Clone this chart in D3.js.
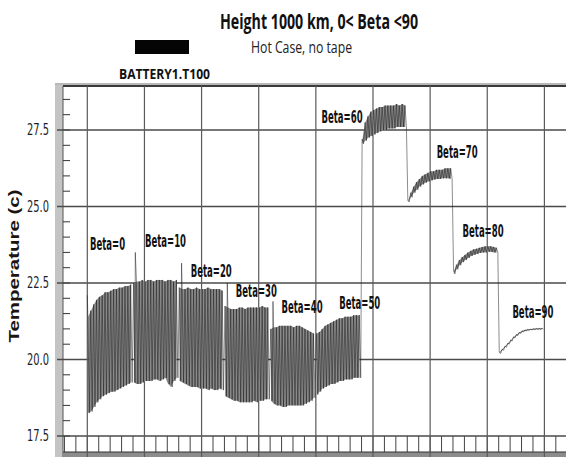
<!DOCTYPE html>
<html>
<head>
<meta charset="utf-8">
<script src="https://cdn.jsdelivr.net/npm/d3@7"></script>
<style>
    body { margin: 0; background: #fff; }
    svg { display: block; }
</style>
</head>
<body>
<div id="battery_vis"></div>
<script>
// text on the chart
const titleText = "Height 1000 km, 0< Beta <90";
const subtitleText = "Hot Case, no tape";
const seriesName = "BATTERY1.T100";
const yTitle = "Temperature (c)";
const yTicks = [17.5, 20.0, 22.5, 25.0, 27.5];

// one label per beta case, anchored in data units (time, temperature)
const betaLabels = ["Beta=0", "Beta=10", "Beta=20", "Beta=30", "Beta=40",
                    "Beta=50", "Beta=60", "Beta=70", "Beta=80", "Beta=90"];
const labelTime = [0.24, 5.05, 9.05, 13.0, 17.0, 22.05, 20.5, 30.57, 32.84, 37.2];
const labelTemp = [23.58, 23.67, 22.71, 22.05, 21.51, 21.64, 27.72, 26.58, 24.01, 21.35];

const segStart = [0, 4, 8, 12, 16, 20, 24, 28, 32, 36];
const beta0Hi = [21.4, 21.6, 21.8, 21.95, 22.05, 22.1, 22.2, 22.2, 22.25, 22.3, 22.3, 22.35, 22.35, 22.4, 22.4, 22.45];
const beta0Lo = [18.25, 18.3, 18.45, 18.6, 18.7, 18.8, 18.85, 18.9, 18.95, 18.95, 19.0, 19.05, 19.1, 19.15, 19.2, 19.25];
const beta10Hi = [22.5, 22.55, 22.55, 22.6, 22.55, 22.6, 22.6, 22.55, 22.6, 22.6, 22.6, 22.55, 22.6, 22.6, 22.55, 22.6];
const beta10Lo = [19.25, 19.2, 19.2, 19.25, 19.3, 19.3, 19.3, 19.35, 19.35, 19.3, 19.35, 19.4, 19.2, 19.1, 19.3, 19.4];
const beta20Hi = [22.35, 22.3, 22.3, 22.35, 22.3, 22.3, 22.35, 22.3, 22.3, 22.3, 22.35, 22.3, 22.3, 22.3, 22.3, 22.25];
const beta20Lo = [19.3, 19.25, 19.2, 19.15, 19.1, 19.1, 19.1, 19.05, 19.05, 19.05, 19.0, 19.05, 19.0, 19.0, 19.05, 19.0];
const beta30Hi = [21.75, 21.7, 21.65, 21.65, 21.65, 21.7, 21.7, 21.65, 21.7, 21.7, 21.7, 21.7, 21.7, 21.75, 21.7, 21.7];
const beta30Lo = [18.8, 18.75, 18.7, 18.65, 18.65, 18.6, 18.6, 18.6, 18.6, 18.6, 18.65, 18.6, 18.65, 18.65, 18.7, 18.7];
const beta40Hi = [21.0, 21.05, 21.05, 21.1, 21.1, 21.1, 21.1, 21.1, 21.05, 21.1, 21.1, 21.05, 21.0, 20.95, 20.9, 20.85];
const beta40Lo = [18.65, 18.55, 18.5, 18.5, 18.45, 18.45, 18.5, 18.5, 18.5, 18.5, 18.5, 18.5, 18.55, 18.6, 18.65, 18.75];
const beta50Hi = [20.85, 20.9, 21.0, 21.1, 21.15, 21.2, 21.25, 21.3, 21.35, 21.35, 21.4, 21.4, 21.4, 21.45, 21.45, 21.45];
const beta50Lo = [18.85, 18.95, 19.05, 19.1, 19.15, 19.2, 19.2, 19.25, 19.3, 19.3, 19.35, 19.35, 19.35, 19.4, 19.4, 19.4];
const beta60Hi = [27.2, 27.75, 27.95, 28.1, 28.15, 28.2, 28.25, 28.25, 28.3, 28.3, 28.3, 28.3, 28.35, 28.3, 28.35, 28.3];
const beta60Lo = [27.05, 27.15, 27.25, 27.3, 27.35, 27.4, 27.45, 27.5, 27.5, 27.55, 27.55, 27.55, 27.6, 27.6, 27.6, 27.6];
const beta70Hi = [25.2, 25.45, 25.65, 25.8, 25.9, 26.0, 26.05, 26.1, 26.15, 26.15, 26.2, 26.2, 26.2, 26.25, 26.25, 26.25];
const beta70Lo = [25.15, 25.3, 25.45, 25.55, 25.65, 25.72, 25.78, 25.82, 25.85, 25.88, 25.9, 25.9, 25.92, 25.92, 25.92, 25.9];
const beta80Hi = [22.9, 23.1, 23.25, 23.35, 23.42, 23.5, 23.55, 23.6, 23.62, 23.65, 23.68, 23.7, 23.7, 23.7, 23.68, 23.65];
const beta80Lo = [22.8, 22.95, 23.08, 23.18, 23.25, 23.32, 23.38, 23.42, 23.45, 23.48, 23.5, 23.5, 23.52, 23.52, 23.5, 23.5];
const beta90Hi = [20.24, 20.34, 20.44, 20.54, 20.64, 20.74, 20.82, 20.89, 20.94, 20.97, 20.99, 21.0, 21.01, 21.02, 21.02, 21.03];
const beta90Lo = [20.2, 20.3, 20.4, 20.5, 20.6, 20.7, 20.78, 20.85, 20.9, 20.93, 20.95, 20.96, 20.97, 20.98, 20.98, 20.99];

// value at switch-on and the short spikes when the beta angle changes
const startTemp = 22.1;
const spikeTime = [4.2, 8.25, 12.25, 16.25];
const spikeTemp = [23.5, 23.15, 22.5, 21.9];

const bandsHi = [beta0Hi, beta10Hi, beta20Hi, beta30Hi, beta40Hi, beta50Hi, beta60Hi, beta70Hi, beta80Hi, beta90Hi];
const bandsLo = [beta0Lo, beta10Lo, beta20Lo, beta30Lo, beta40Lo, beta50Lo, beta60Lo, beta70Lo, beta80Lo, beta90Lo];

//create window for viz
let W = 566, H = 457;
let plot = { left: 63, right: 566, top: 86, bottom: 452, band: 436 };

let svg = d3.select("#battery_vis")
    .append("svg")
    .attr("width", W)
    .attr("height", H);

// scales: time units (one per small box) and temperature
let x = d3.scaleLinear()
    .domain([0, 40])
    .range([87.3, 544.4]);
let y = d3.scaleLinear()
    .domain([17.5, 27.5])
    .range([436, 130]);

let tMin = x.invert(plot.left), tMax = x.invert(plot.right);

// grey frame bits round the plot
svg.append("rect")
    .attr("x", 55).attr("y", 83)
    .attr("width", 8).attr("height", H - 83)
    .style("fill", "#c4c4c4");
svg.append("rect")
    .attr("x", 55).attr("y", 83)
    .attr("width", W - 55).attr("height", 2)
    .style("fill", "#b8b8b8");
svg.append("line")
    .attr("x1", plot.left).attr("x2", W)
    .attr("y1", plot.top).attr("y2", plot.top)
    .style("stroke", "#3a3a3a").style("stroke-width", 2);
svg.append("line")
    .attr("x1", plot.left).attr("x2", plot.left)
    .attr("y1", plot.top).attr("y2", H)
    .style("stroke", "#555").style("stroke-width", 1);
svg.append("rect")
    .attr("x", plot.left).attr("y", plot.bottom)
    .attr("width", W - plot.left).attr("height", H - plot.bottom)
    .style("fill", "#8c8c8c");

// boxed strip along the bottom, one box per time unit
let boxTicks = d3.range(Math.ceil(tMin), Math.floor(tMax) + 1);
svg.append("g")
    .selectAll("line")
    .data(boxTicks)
    .enter()
    .append("line")
    .attr("x1", d => x(d)).attr("x2", d => x(d))
    .attr("y1", plot.band).attr("y2", plot.bottom)
    .style("stroke", "#444").style("stroke-width", 1);
svg.append("line")
    .attr("x1", plot.left).attr("x2", W)
    .attr("y1", plot.bottom).attr("y2", plot.bottom)
    .style("stroke", "#333").style("stroke-width", 1.2);

// minor ticks on the left every 0.5
let minorTicks = d3.range(17.5, 28.9, 0.5);
svg.append("g")
    .selectAll("line")
    .data(minorTicks)
    .enter()
    .append("line")
    .attr("x1", 63).attr("x2", 70)
    .attr("y1", d => y(d)).attr("y2", d => y(d))
    .style("stroke", "#333").style("stroke-width", 1);

// horizontal grid at the labelled temperatures
svg.append("g")
    .selectAll("line")
    .data(yTicks)
    .enter()
    .append("line")
    .attr("x1", 57).attr("x2", W)
    .attr("y1", d => y(d)).attr("y2", d => y(d))
    .style("stroke", "#4a4a4a").style("stroke-width", 1.6);

// vertical grid every 5 time units
let gridTicks = d3.range(0, tMax, 5);
svg.append("g")
    .selectAll("line")
    .data(gridTicks)
    .enter()
    .append("line")
    .attr("x1", d => x(d)).attr("x2", d => x(d))
    .attr("y1", plot.top).attr("y2", H)
    .style("stroke", "#5a5a5a").style("stroke-width", 1.2);

// y tick labels
svg.append("g")
    .selectAll("text")
    .data(yTicks)
    .enter()
    .append("text")
    .attr("x", 49)
    .attr("y", d => y(d) + 5)
    .attr("text-anchor", "end")
    .attr("textLength", 22)
    .attr("lengthAdjust", "spacingAndGlyphs")
    .style("font-family", "'Liberation Sans Narrow', 'DejaVu Sans Condensed', sans-serif")
    .style("font-size", "15px")
    .style("fill", "#1e1e28")
    .text(d => d.toFixed(1));

// gray envelope of each beta case
let dt = 4 / 16;
let band = d3.area()
    .x(d => x(d.t))
    .y0(d => y(d.lo))
    .y1(d => y(d.hi));

bandsHi.forEach(function(hi, s) {
    let rows = hi.map((h, i) => ({ t: segStart[s] + (i + 0.3) * dt, hi: h, lo: bandsLo[s][i] }));
    svg.append("path")
        .datum(rows)
        .attr("d", band)
        .style("fill", "#8a8a8a");
});

// the temperature trace: orbit max then orbit min, plus spikes
let points = [{ t: 0, v: startTemp }];
bandsHi.forEach(function(hi, s) {
    hi.forEach(function(h, i) {
        let t = segStart[s] + i * dt;
        points.push({ t: t + 0.05, v: h });
        points.push({ t: t + dt / 2 + 0.05, v: bandsLo[s][i] });
    });
});
spikeTime.forEach((t, i) => points.push({ t: t, v: spikeTemp[i] }));
points.sort((a, b) => a.t - b.t);

let trace = d3.line()
    .x(d => x(d.t))
    .y(d => y(d.v));

svg.append("path")
    .datum(points)
    .attr("d", trace)
    .style("fill", "none")
    .style("stroke", "#1a1a1a")
    .style("stroke-width", 0.5);

// beta labels
svg.append("g")
    .selectAll("text")
    .data(betaLabels)
    .enter()
    .append("text")
    .attr("x", (d, i) => x(labelTime[i]))
    .attr("y", (d, i) => y(labelTemp[i]))
    .attr("textLength", d => d.length === 6 ? 35 : 41)
    .attr("lengthAdjust", "spacingAndGlyphs")
    .style("font-family", "'Liberation Sans Narrow', 'DejaVu Sans Condensed', sans-serif")
    .style("font-weight", "bold")
    .style("font-size", "18px")
    .style("fill", "#111")
    .text(d => d);

// y axis title
svg.append("text")
    .attr("transform", "translate(19,266) rotate(-90)")
    .attr("text-anchor", "middle")
    .attr("textLength", 153)
    .attr("lengthAdjust", "spacingAndGlyphs")
    .style("font-family", "'Liberation Sans', Arial, sans-serif")
    .style("font-weight", "bold")
    .style("font-size", "14px")
    .style("fill", "#1c1410")
    .text(yTitle);

// title and subtitle
svg.append("text")
    .attr("x", 220)
    .attr("y", 29)
    .attr("textLength", 198)
    .attr("lengthAdjust", "spacingAndGlyphs")
    .style("font-family", "'Liberation Sans Narrow', 'Open Sans', sans-serif")
    .style("font-weight", "bold")
    .style("font-size", "21px")
    .style("fill", "#111")
    .text(titleText);

svg.append("text")
    .attr("x", 251)
    .attr("y", 53)
    .attr("textLength", 101)
    .attr("lengthAdjust", "spacingAndGlyphs")
    .style("font-family", "'Liberation Sans Narrow', 'Open Sans', sans-serif")
    .style("font-size", "17px")
    .style("fill", "#222")
    .text(subtitleText);

// legend swatch and series name
svg.append("rect")
    .attr("x", 135).attr("y", 40)
    .attr("width", 54).attr("height", 14)
    .style("fill", "#050505");

svg.append("text")
    .attr("x", 119)
    .attr("y", 79)
    .attr("textLength", 91)
    .attr("lengthAdjust", "spacingAndGlyphs")
    .style("font-family", "'Liberation Sans Narrow', 'Open Sans', sans-serif")
    .style("font-weight", "bold")
    .style("font-size", "15px")
    .style("fill", "#111")
    .text(seriesName);
</script>
</body>
</html>
